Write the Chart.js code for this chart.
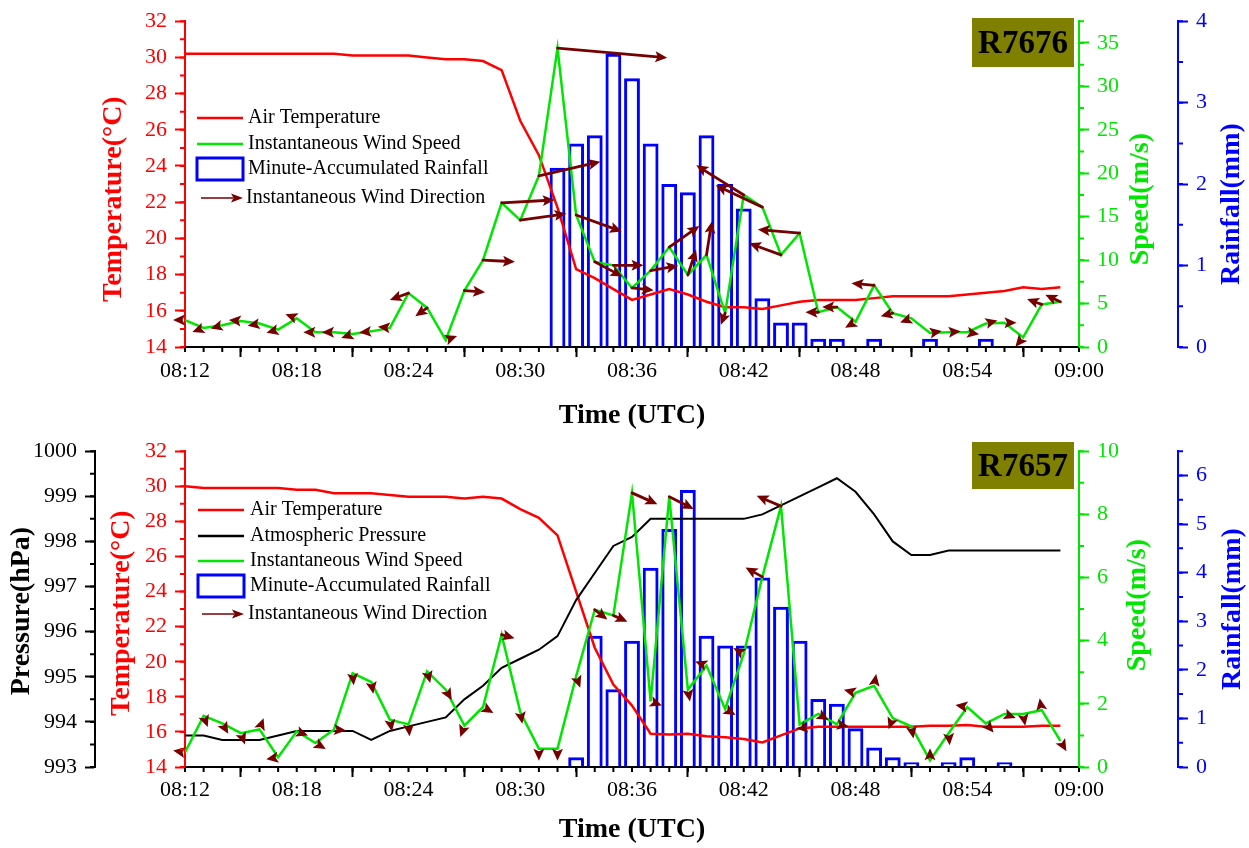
<!DOCTYPE html>
<html>
<head>
<meta charset="utf-8">
<script src="https://cdn.jsdelivr.net/npm/chart.js@4/dist/chart.umd.min.js"></script>
<style>
  body { margin: 0; background: #fff; }
  canvas { display: block; }
</style>
</head>
<body>
<canvas id="topChart" width="1249" height="430"></canvas>
<canvas id="bottomChart" width="1249" height="418"></canvas>
<script>
const FONT = "'Liberation Serif', 'Times New Roman', serif";
Chart.defaults.font.family = FONT;
Chart.defaults.animation = false;

const RED = '#ff0000', GREEN = '#00e600', BLUE = '#0000ff', BLACK = '#000000';
const MAROON = '#760000', OLIVE = '#808000';

// x axis: one value per minute, 08:12 .. 08:59
const tickLabels = ['08:12', '08:18', '08:24', '08:30', '08:36', '08:42', '08:48', '08:54', '09:00'];

// station R7676
const topTemp = [30.2, 30.2, 30.2, 30.2, 30.2, 30.2, 30.2, 30.2, 30.2, 30.1, 30.1, 30.1,
  30.1, 30.0, 29.9, 29.9, 29.8, 29.3, 26.5, 24.6, 21.7, 18.3, 17.8, 17.2,
  16.6, 16.9, 17.2, 16.9, 16.5, 16.2, 16.2, 16.1, 16.3, 16.5, 16.6, 16.6,
  16.6, 16.7, 16.8, 16.8, 16.8, 16.8, 16.9, 17.0, 17.1, 17.3, 17.2, 17.3];
const topSpeed = [3.1, 2.2, 2.5, 3.0, 2.7, 2.0, 3.3, 1.7, 1.7, 1.5, 1.8, 2.2,
  6.2, 4.5, 0.8, 6.5, 10.0, 16.6, 14.6, 19.7, 34.4, 15.2, 9.8, 9.4,
  6.8, 8.8, 11.5, 8.3, 10.6, 3.9, 17.5, 16.1, 10.6, 13.1, 4.0, 4.6,
  2.9, 7.1, 3.9, 3.3, 1.6, 1.7, 1.7, 2.7, 2.8, 1.1, 4.9, 5.2];
const topRain = [0, 0, 0, 0, 0, 0, 0, 0, 0, 0, 0, 0,
  0, 0, 0, 0, 0, 0, 0, 0, 2.2, 2.5, 2.6, 3.6,
  3.3, 2.5, 2.0, 1.9, 2.6, 2.0, 1.7, 0.6, 0.3, 0.3, 0.1, 0.1,
  0, 0.1, 0, 0, 0.1, 0, 0, 0.1, 0, 0, 0, 0];
// direction the arrow points to, degrees clockwise from north
const topDir = [270, 250, 255, 275, 260, 255, 290, 270, 270, 250, 265, 275,
  250, 235, 70, 95, 93, 87, 82, 77, 95, 110, 118, 90,
  96, 80, 55, 18, 9, 200, 302, 295, 290, 275, 270, 270,
  240, 275, 255, 250, 80, 85, 100, 75, 90, 220, 290, 295];

// station R7657
const botTemp = [30.0, 29.9, 29.9, 29.9, 29.9, 29.9, 29.8, 29.8, 29.6, 29.6, 29.6, 29.5,
  29.4, 29.4, 29.4, 29.3, 29.4, 29.3, 28.7, 28.2, 27.2, 24.0, 20.8, 18.7,
  17.5, 15.9, 15.85, 15.9, 15.75, 15.7, 15.6, 15.4, 15.8, 16.2, 16.3, 16.3,
  16.3, 16.3, 16.3, 16.3, 16.35, 16.35, 16.4, 16.3, 16.3, 16.3, 16.35, 16.35];
const botPress = [993.7, 993.7, 993.6, 993.6, 993.6, 993.7, 993.8, 993.8, 993.8, 993.8, 993.6, 993.8,
  993.9, 994.0, 994.1, 994.5, 994.8, 995.2, 995.4, 995.6, 995.9, 996.7, 997.3, 997.9,
  998.1, 998.5, 998.5, 998.5, 998.5, 998.5, 998.5, 998.6, 998.8, 999.0, 999.2, 999.4,
  999.1, 998.6, 998.0, 997.7, 997.7, 997.8, 997.8, 997.8, 997.8, 997.8, 997.8, 997.8];
const botSpeed = [0.46, 1.62, 1.38, 1.07, 1.19, 0.31, 1.13, 0.76, 1.19, 2.97, 2.69, 1.5,
  1.35, 3.03, 2.45, 1.31, 1.9, 4.19, 1.74, 0.58, 0.58, 2.87, 4.98, 4.8,
  8.68, 2.08, 8.56, 2.45, 3.21, 1.84, 3.58, 6.02, 8.26, 1.35, 1.68, 1.35,
  2.35, 2.57, 1.55, 1.28, 0.21, 1.07, 1.9, 1.38, 1.68, 1.68, 1.8, 0.83];
const botRain = [0, 0, 0, 0, 0, 0, 0, 0, 0, 0, 0, 0,
  0, 0, 0, 0, 0, 0, 0, 0, 0, 0.2, 2.7, 1.6,
  2.6, 4.1, 4.9, 5.7, 2.7, 2.5, 2.5, 3.9, 3.3, 2.6, 1.4, 1.3,
  0.8, 0.4, 0.2, 0.1, 0, 0.1, 0.2, 0, 0.1, 0, 0, 0];
const botDir = [280, 160, 150, 160, 20, 260, 110, 120, 95, 175, 170, 170,
  175, 165, 150, 200, 120, 105, 170, 180, 180, 160, 128, 114,
  114, 110, 117, 170, 290, 120, 300, 299, 293, 135, 120, 100,
  285, 10, 200, 170, 0, 175, 280, 140, 110, 170, 350, 150];

const ARROW_PX = 3.2;   // arrow length per m/s
const HEAD_LEN = 12;
const HEAD_W = 5.5;

function xy(arr, dropZero) {
    return arr.map((v, i) => ({ x: i, y: dropZero && !v ? null : v }));
}

function drawArrow(ctx, x, y, ux, uy, len, width, headLen, headW) {
    const tx = x + ux * len, ty = y + uy * len;
    const bx = tx - ux * headLen, by = ty - uy * headLen;
    if (len > headLen) {
        ctx.lineWidth = width;
        ctx.beginPath();
        ctx.moveTo(x, y);
        ctx.lineTo(bx + ux * 2, by + uy * 2);
        ctx.stroke();
    }
    ctx.beginPath();
    ctx.moveTo(tx, ty);
    ctx.lineTo(bx - uy * headW, by + ux * headW);
    ctx.lineTo(bx + ux * 2.5, by + uy * 2.5);
    ctx.lineTo(bx + uy * headW, by - ux * headW);
    ctx.closePath();
    ctx.fill();
}

// wind direction arrows starting at each wind speed point
function windArrows(dsIndex, dirs) {
    return {
        id: 'windArrows',
        afterDatasetsDraw(chart) {
            const ctx = chart.ctx;
            const meta = chart.getDatasetMeta(dsIndex);
            const data = chart.data.datasets[dsIndex].data;
            ctx.save();
            ctx.strokeStyle = MAROON;
            ctx.fillStyle = MAROON;
            ctx.lineCap = 'round';
            meta.data.forEach((pt, i) => {
                const a = dirs[i] * Math.PI / 180;
                const len = Math.max(data[i].y * ARROW_PX, HEAD_LEN);
                drawArrow(ctx, pt.x, pt.y, Math.sin(a), -Math.cos(a), len, 2.8, HEAD_LEN, HEAD_W);
            });
            ctx.restore();
        }
    };
}

// minor tick marks on the axes
function minorTicks(steps) {
    return {
        id: 'minorTicks',
        afterDraw(chart) {
            const ctx = chart.ctx;
            Object.keys(steps).forEach(id => {
                const s = chart.scales[id];
                const step = steps[id];
                const n = Math.round((s.max - s.min) / step);
                ctx.save();
                ctx.strokeStyle = s.options.border.color;
                ctx.lineWidth = 2;
                ctx.beginPath();
                for (let k = 0; k <= n; k++) {
                    const p = s.getPixelForValue(s.min + k * step);
                    if (s.isHorizontal()) {
                        ctx.moveTo(p, s.top); ctx.lineTo(p, s.top + 5);
                    } else if (s.position === 'left') {
                        ctx.moveTo(s.right, p); ctx.lineTo(s.right - 5, p);
                    } else {
                        ctx.moveTo(s.left, p); ctx.lineTo(s.left + 5, p);
                    }
                }
                ctx.stroke();
                ctx.restore();
            });
        }
    };
}

// vertical axis titles, all reading bottom to top
function axisTitles(items) {
    return {
        id: 'axisTitles',
        afterDraw(chart) {
            const ctx = chart.ctx;
            const mid = (chart.chartArea.top + chart.chartArea.bottom) / 2;
            items.forEach(t => {
                ctx.save();
                ctx.translate(t.x, mid + t.dy);
                ctx.rotate(-Math.PI / 2);
                ctx.font = 'bold 28px ' + FONT;
                ctx.fillStyle = t.color;
                ctx.textAlign = 'center';
                ctx.textBaseline = 'middle';
                ctx.fillText(t.text, 0, 0);
                ctx.restore();
            });
        }
    };
}

// legend inside the plot
function boxLegend(sampleX, textX, items) {
    return {
        id: 'boxLegend',
        afterDraw(chart) {
            const ctx = chart.ctx;
            ctx.save();
            items.forEach(it => {
                ctx.strokeStyle = it.color;
                ctx.fillStyle = it.color;
                if (it.type === 'line') {
                    ctx.lineWidth = 2.5;
                    ctx.beginPath();
                    ctx.moveTo(sampleX, it.y);
                    ctx.lineTo(sampleX + 46, it.y);
                    ctx.stroke();
                } else if (it.type === 'box') {
                    ctx.lineWidth = 3;
                    ctx.strokeRect(sampleX, it.y - 11, 46, 22);
                } else {
                    drawArrow(ctx, sampleX + 4, it.y, 1, 0, 42, 1.5, 12, 4.5);
                }
                ctx.fillStyle = BLACK;
                ctx.font = '20px ' + FONT;
                ctx.textAlign = 'left';
                ctx.textBaseline = 'middle';
                ctx.fillText(it.label, it.type === 'arrow' ? textX - 2 : textX, it.y);
            });
            ctx.restore();
        }
    };
}

// station name in the top-right corner
function stationTag(text, box) {
    return {
        id: 'stationTag',
        afterDraw(chart) {
            const ctx = chart.ctx;
            ctx.save();
            ctx.fillStyle = OLIVE;
            ctx.fillRect(box.x, box.y, box.w, box.h);
            ctx.fillStyle = BLACK;
            ctx.font = 'bold 33px ' + FONT;
            ctx.textAlign = 'center';
            ctx.textBaseline = 'middle';
            ctx.fillText(text, box.x + box.w / 2, box.y + box.h / 2 + 2);
            ctx.restore();
        }
    };
}

function yAxis(o) {
    return {
        type: 'linear',
        position: o.pos,
        weight: o.weight,
        min: o.min,
        max: o.max,
        border: { color: o.color, width: 2 },
        grid: { drawOnChartArea: false, color: o.color, tickLength: 10, tickWidth: 2 },
        ticks: {
            color: o.color, stepSize: o.step, padding: 8, includeBounds: false,
            font: { size: 22 }, callback: v => String(v)
        },
        afterFit: s => { s.width = o.width; }
    };
}

function xAxis(height, labelPad, titlePad) {
    return {
        type: 'linear',
        position: 'bottom',
        min: 0,
        max: 48,
        offset: false,
        border: { color: BLACK, width: 2 },
        grid: { drawOnChartArea: false, color: BLACK, tickLength: 10, tickWidth: 2 },
        ticks: {
            stepSize: 6, color: BLACK, padding: labelPad, maxRotation: 0, autoSkip: false,
            font: { size: 22 }, callback: v => tickLabels[v / 6]
        },
        title: {
            display: true, text: 'Time (UTC)', color: BLACK,
            font: { size: 28, weight: 'bold', lineHeight: 1 },
            padding: { top: 0, bottom: titlePad }
        },
        afterFit: s => { s.height = height; }
    };
}

function rainSet(arr) {
    return {
        type: 'bar', label: 'Minute-Accumulated Rainfall', data: xy(arr, true), yAxisID: 'yR',
        backgroundColor: 'rgba(0,0,0,0)', borderColor: BLUE, borderWidth: 3,
        barPercentage: 0.85, categoryPercentage: 1, order: 4
    };
}

function lineSet(label, arr, color, axis, order, width) {
    return {
        type: 'line', label: label, data: xy(arr, false), yAxisID: axis,
        borderColor: color, borderWidth: width, pointRadius: 0, tension: 0, order: order
    };
}

const baseOptions = {
    responsive: false,
    animation: false,
    plugins: { legend: { display: false }, tooltip: { enabled: false } }
};

// Графік R7676
new Chart(document.getElementById('topChart').getContext('2d'), {
    type: 'line',
    data: {
        datasets: [
            lineSet('Instantaneous Wind Speed', topSpeed, GREEN, 'yS', 1, 2.5),
            lineSet('Air Temperature', topTemp, RED, 'yT', 3, 2.5),
            rainSet(topRain)
        ]
    },
    options: {
        ...baseOptions,
        layout: { autoPadding: false, padding: { top: 20, bottom: 0, left: 0, right: 0 } },
        scales: {
            x: xAxis(83, 1, 0),
            yT: yAxis({ pos: 'left', weight: 0, min: 14, max: 32, step: 2, color: RED, width: 185 }),
            yS: yAxis({ pos: 'right', weight: 0, min: 0, max: 37.5, step: 5, color: GREEN, width: 99 }),
            yR: yAxis({ pos: 'right', weight: 1, min: 0, max: 4, step: 1, color: BLUE, width: 71 })
        }
    },
    plugins: [
        windArrows(0, topDir),
        minorTicks({ x: 1, yT: 1, yS: 2.5, yR: 0.5 }),
        axisTitles([
            { text: 'Temperature(°C)', color: RED, x: 114, dy: 15 },
            { text: 'Speed(m/s)', color: GREEN, x: 1141, dy: 15 },
            { text: 'Rainfall(mm)', color: BLUE, x: 1232, dy: 20 }
        ]),
        boxLegend(197, 248, [
            { type: 'line', color: RED, label: 'Air Temperature', y: 118 },
            { type: 'line', color: GREEN, label: 'Instantaneous Wind Speed', y: 144 },
            { type: 'box', color: BLUE, label: 'Minute-Accumulated Rainfall', y: 169 },
            { type: 'arrow', color: MAROON, label: 'Instantaneous Wind Direction', y: 198 }
        ]),
        stationTag('R7676', { x: 972, y: 18, w: 102, h: 49 })
    ]
});

// Графік R7657
new Chart(document.getElementById('bottomChart').getContext('2d'), {
    type: 'line',
    data: {
        datasets: [
            lineSet('Instantaneous Wind Speed', botSpeed, GREEN, 'yS', 1, 2.5),
            lineSet('Atmospheric Pressure', botPress, BLACK, 'yP', 2, 2),
            lineSet('Air Temperature', botTemp, RED, 'yT', 3, 2.5),
            rainSet(botRain)
        ]
    },
    options: {
        ...baseOptions,
        layout: { autoPadding: false, padding: { top: 10, bottom: 0, left: 0, right: 0 } },
        scales: {
            x: xAxis(81, 0, 4),
            yP: yAxis({ pos: 'left', weight: 1, min: 993, max: 1000, step: 1, color: BLACK, width: 95 }),
            yT: yAxis({ pos: 'left', weight: 0, min: 14, max: 32, step: 2, color: RED, width: 90 }),
            yS: yAxis({ pos: 'right', weight: 0, min: 0, max: 10, step: 2, color: GREEN, width: 99 }),
            yR: yAxis({ pos: 'right', weight: 1, min: 0, max: 6.5, step: 1, color: BLUE, width: 71 })
        }
    },
    plugins: [
        windArrows(0, botDir),
        minorTicks({ x: 1, yP: 0.5, yT: 1, yS: 1, yR: 0.5 }),
        axisTitles([
            { text: 'Pressure(hPa)', color: BLACK, x: 22, dy: 2 },
            { text: 'Temperature(°C)', color: RED, x: 122, dy: 4 },
            { text: 'Speed(m/s)', color: GREEN, x: 1138, dy: -4 },
            { text: 'Rainfall(mm)', color: BLUE, x: 1233, dy: 0 }
        ]),
        boxLegend(198, 250, [
            { type: 'line', color: RED, label: 'Air Temperature', y: 80 },
            { type: 'line', color: BLACK, label: 'Atmospheric Pressure', y: 106 },
            { type: 'line', color: GREEN, label: 'Instantaneous Wind Speed', y: 131 },
            { type: 'box', color: BLUE, label: 'Minute-Accumulated Rainfall', y: 156 },
            { type: 'arrow', color: MAROON, label: 'Instantaneous Wind Direction', y: 184 }
        ]),
        stationTag('R7657', { x: 972, y: 12, w: 102, h: 47 })
    ]
});
</script>
</body>
</html>
